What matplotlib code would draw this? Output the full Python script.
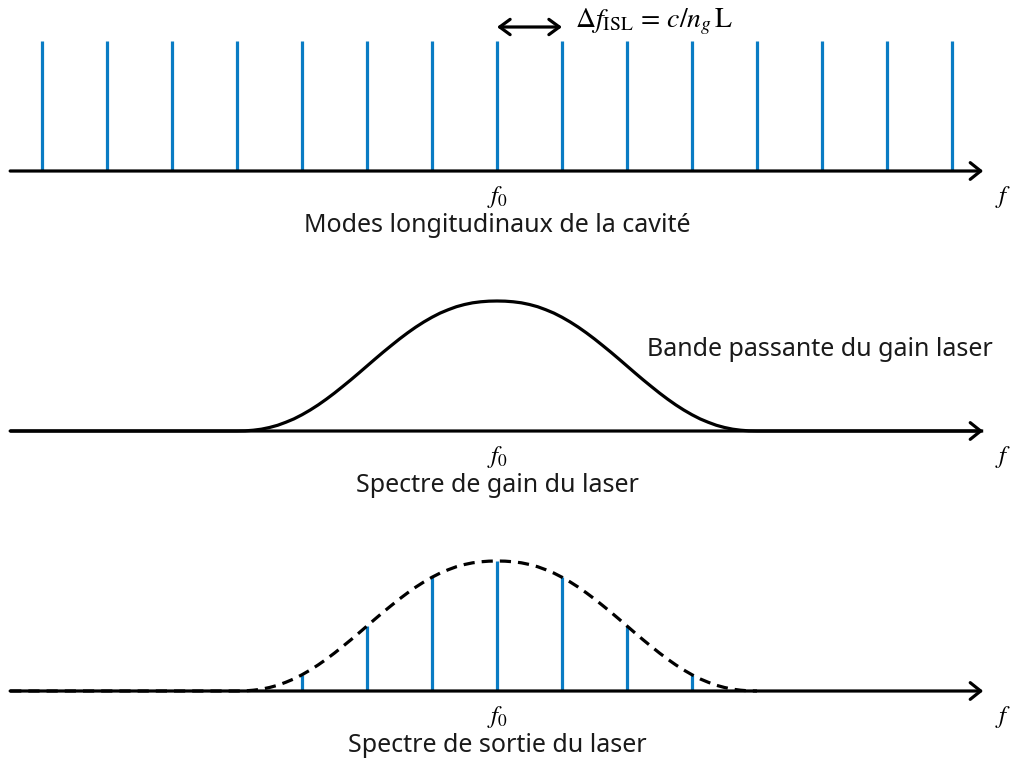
import numpy as np
import matplotlib
matplotlib.use("Agg")
import matplotlib.pyplot as plt

plt.rcParams['mathtext.fontset'] = 'stix'
plt.rcParams['font.family'] = ['Noto Sans', 'DejaVu Sans']

# ---------------- data ----------------
# cavity longitudinal modes (index relative to f0, spacing = Δf_ISL)
mode_index = [-7, -6, -5, -4, -3, -2, -1, 0, 1, 2, 3, 4, 5, 6, 7]
mode_heights = [1.0] * 15

# gain profile: relative frequency (units of Δf_ISL) from -4 to 4, step 1/8
gain_x = list(np.linspace(-4.0, 4.0, 65))
gain_y = [0.000, 0.001, 0.006, 0.014, 0.027, 0.044, 0.067, 0.093,
          0.125, 0.161, 0.201, 0.245, 0.292, 0.342, 0.393, 0.446,
          0.500, 0.554, 0.607, 0.658, 0.708, 0.755, 0.799, 0.839,
          0.875, 0.907, 0.933, 0.956, 0.973, 0.986, 0.994, 0.9987,
          1.000,
          0.9987, 0.994, 0.986, 0.973, 0.956, 0.933, 0.907, 0.875,
          0.839, 0.799, 0.755, 0.708, 0.658, 0.607, 0.554, 0.500,
          0.446, 0.393, 0.342, 0.292, 0.245, 0.201, 0.161, 0.125,
          0.093, 0.067, 0.044, 0.027, 0.014, 0.006, 0.001, 0.000]

# output (lasing) modes
out_index = [-3, -2, -1, 0, 1, 2, 3]
out_heights = [0.125, 0.500, 0.875, 1.000, 0.875, 0.500, 0.125]

axis_start, axis_end = -7.49, 7.48   # frequency axis extent

texts_caption = ["Modes longitudinaux de la cavité",
                 "Spectre de gain du laser",
                 "Spectre de sortie du laser"]
gain_label = "Bande passante du gain laser"
isl_label = r"$\Delta f_{\mathrm{ISL}}\, = \,c/n_g\,\mathrm{L}$"

# ---------------- layout ----------------
W, H = 1010, 760
fig = plt.figure(figsize=(W / 100, H / 100), dpi=100)
ax = fig.add_axes([0, 0, 1, 1])
x0px, unit_x = 497, 65.0
unit_y = 130.0
ax.set_xlim(-x0px / unit_x, (W - x0px) / unit_x)
ax.set_ylim(0, H / unit_y)
ax.axis('off')

def py(p):
    return (H - p) / unit_y

bases = [py(171), py(431), py(691)]
blue = '#0A7CC4'
txt_col = '#1a1a1a'
lw = 2.3
fs_txt = 18

def freq_axis(b):
    ax.annotate('', xy=(axis_end, b), xytext=(axis_start, b),
                arrowprops=dict(arrowstyle='->,head_length=0.75,head_width=0.6',
                                lw=lw, color='black', shrinkA=0, shrinkB=0,
                                mutation_scale=10), zorder=5)
    ax.text(0, b - 26 / unit_y, r'$f_0$', fontsize=18, ha='center', va='center')
    ax.text((1003 - x0px) / unit_x, b - 26 / unit_y, r'$f$', fontsize=18,
            ha='center', va='center')

# panel 1: modes
b = bases[0]
ax.vlines(mode_index, b, [b + h for h in mode_heights], color=blue, lw=lw, zorder=3)
freq_axis(b)
ax.text(0, py(226), texts_caption[0], fontsize=fs_txt, ha='center', va='center',
        color=txt_col)
ax.annotate('', xy=(1, py(27)), xytext=(0, py(27)),
            arrowprops=dict(arrowstyle='<->,head_length=0.75,head_width=0.55',
                            lw=lw, color='black', shrinkA=0, shrinkB=0,
                            mutation_scale=10))
ax.text((575 - x0px) / unit_x, py(22), isl_label, fontsize=20, ha='left', va='center')

# panel 2: gain
b = bases[1]
gx = [axis_start] + gain_x + [axis_end]
gy = [0] + gain_y + [0]
ax.plot(gx, [b + v for v in gy], color='black', lw=lw, zorder=4,
        solid_capstyle='butt', solid_joinstyle='round')
freq_axis(b)
ax.text(0, py(486), texts_caption[1], fontsize=fs_txt, ha='center', va='center',
        color=txt_col)
ax.text((647 - x0px) / unit_x, py(350), gain_label, fontsize=fs_txt, ha='left',
        va='center', color=txt_col)

# panel 3: output
b = bases[2]
ax.vlines(out_index, b, [b + h for h in out_heights], color=blue, lw=lw, zorder=3)
dx = [axis_start] + gain_x
dy = [0] + gain_y
ax.plot(dx, [b + v for v in dy], color='black', lw=lw, ls=(0, (3.5, 2.2)), zorder=4)
freq_axis(b)
ax.text(0, py(746), texts_caption[2], fontsize=fs_txt, ha='center', va='center',
        color=txt_col)

fig.savefig('out.png', dpi=100)
